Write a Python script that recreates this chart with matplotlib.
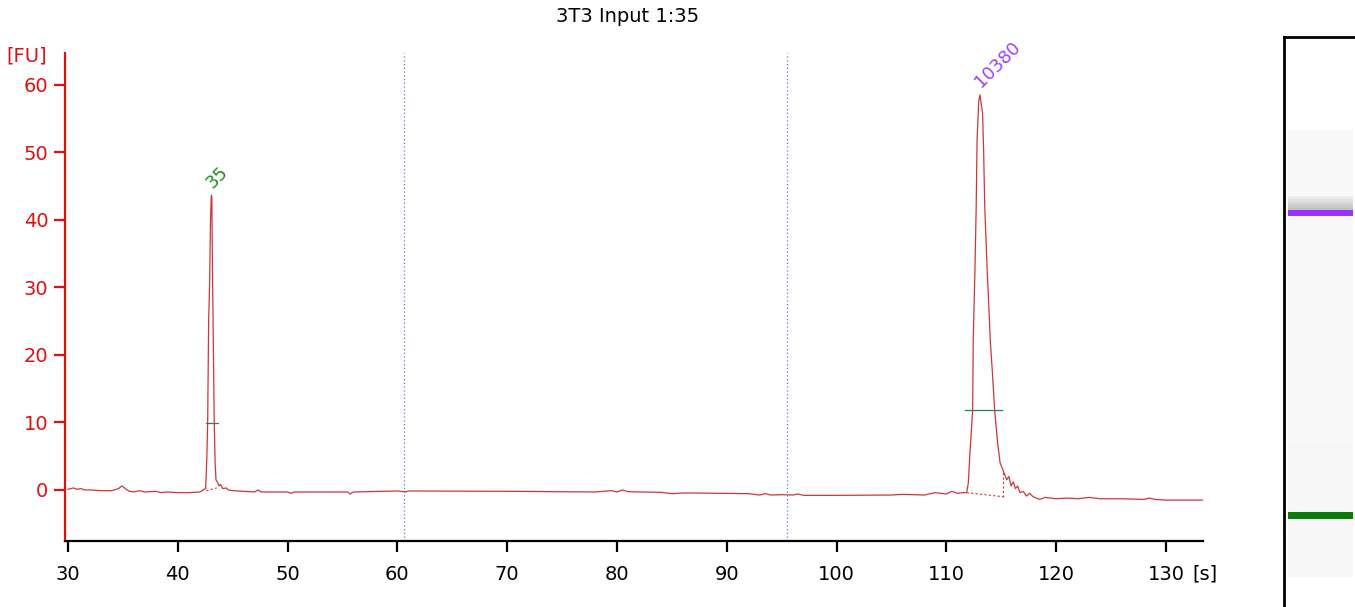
"""Electropherogram of 3T3 Input 1:35 with its gel lane on the right"""

import matplotlib.pyplot as plt

# trace: time [s] and fluorescence [FU]
time_s = [30, 30.5, 30.8, 31.2, 31.5, 32, 33, 34, 34.6, 34.9, 35.3, 35.6, 36, 36.5, 37,
          38, 38.5, 39, 40, 41, 42, 42.3, 42.54,
          42.65, 42.72, 42.81, 42.9, 42.98, 43.05, 43.1, 43.17, 43.25, 43.32, 43.4, 43.48,
          43.6, 43.75, 43.9, 44.1, 44.4, 44.6, 45, 46, 47, 47.3, 47.6, 48,
          50, 50.3, 50.6, 52, 55.5, 55.7, 56, 60, 60.8, 61, 70, 74, 78, 79.5, 80, 80.5, 81,
          82, 84, 85, 86, 87, 92, 93, 93.5, 94, 95, 96, 96.5, 97, 100, 105, 106, 108, 109,
          110, 110.5, 111, 111.5, 111.85,
          112.0, 112.15, 112.4, 112.45, 112.6, 112.72, 112.8, 112.95, 113.06, 113.3, 113.4,
          113.5, 113.73, 113.85, 114.0, 114.2, 114.4, 114.67, 114.9, 115.15, 115.5, 115.7,
          115.9, 116.1, 116.3, 116.5, 116.7, 117, 117.3, 117.6, 117.9, 118.5, 119, 120, 121,
          122, 123, 124, 126, 128, 128.5, 129, 130, 133.4]
fluor = [0.1, 0.3, 0.1, 0.2, 0.0, 0.0, -0.1, -0.1, 0.2, 0.6, 0.1, -0.2, -0.3, -0.1, -0.3,
         -0.2, -0.4, -0.3, -0.4, -0.4, -0.3, 0.0, 0.2,
         5, 9.9, 25, 30.7, 40, 43.6, 43.5, 30.7, 20, 9.9, 4, 1.5,
         1.2, 0.6, 0.8, 0.2, 0.3, 0.0, -0.1, -0.2, -0.3, 0.0, -0.3, -0.3,
         -0.3, -0.5, -0.3, -0.3, -0.3, -0.6, -0.3, -0.15, -0.3, -0.15, -0.2, -0.25, -0.3,
         -0.1, -0.3, 0.0, -0.25, -0.3, -0.35, -0.55, -0.45, -0.45, -0.55, -0.75, -0.55,
         -0.75, -0.7, -0.75, -0.6, -0.8, -0.8, -0.75, -0.65, -0.75, -0.4, -0.6, -0.2, -0.5,
         -0.4, -0.4,
         1.0, 5.5, 11.85, 22.2, 32.1, 41.9, 51.8, 57.5, 58.5, 55.8, 50.0,
         41.9, 32.1, 28.0, 22.2, 17.3, 11.85, 7.0, 4.0, 3.0, 1.5, 2.0,
         0.6, 1.2, 0.2, 0.6, -0.4, -0.2, -0.9, -0.5, -1.0, -1.4, -1.1, -1.3, -1.2,
         -1.3, -1.1, -1.3, -1.3, -1.4, -1.2, -1.4, -1.5, -1.5]

# the two marker peaks
peak_time = [43.07, 113.06]
peak_height = [43.6, 58.5]
peak_label = ["35", "10380"]
peak_color = ["#1f8a1f", "#a040ff"]
band_color = ["#0a7a0a", "#9b30ff"]
# peak width bars (height, start, end) and integration baselines
width_bar_y = [9.9, 11.85]
width_bar_x = [(42.6, 43.7), (111.7, 115.05)]
base_x = [(42.6, 43.55), (111.85, 115.15)]
base_y = [(-0.1, 0.3), (-0.4, -1.0)]
tail_top = 3.0

# region boundaries (dotted lines)
region_lines = [60.6, 95.5]

x_ticks = [30, 40, 50, 60, 70, 80, 90, 100, 110, 120, 130]
y_ticks = [0, 10, 20, 30, 40, 50, 60]

fig = plt.figure(figsize=(13.55, 6.07), dpi=100)
ax = fig.add_axes([0.048, 0.1087, 0.840, 0.804])

ax.plot(time_s, fluor, color="#cc3838", lw=0.9)

for xv in region_lines:
    ax.axvline(xv, color="#7070c8", lw=0.9, ls=(0, (1, 2)))

for i in range(2):
    ax.plot(width_bar_x[i], [width_bar_y[i]] * 2, color="#2e7d5b", lw=0.9)
    ax.plot(base_x[i], base_y[i], color="#cc3838", lw=0.8, ls=(0, (2, 2)))
    ax.text(peak_time[i] + 0.4, peak_height[i] + 0.6, peak_label[i], color=peak_color[i],
            fontsize=13, rotation=45, rotation_mode="anchor", ha="left", va="bottom")
# vertical dotted end of the upper marker baseline
ax.plot([base_x[1][1]] * 2, [base_y[1][1], tail_top], color="#cc3838", lw=0.8,
        ls=(0, (2, 2)))

ax.set_xlim(29.73, 133.4)
ax.set_ylim(-7.56, 64.7)
ax.set_xticks(x_ticks)
ax.set_yticks(y_ticks)
ax.set_xticklabels([str(t) for t in x_ticks], fontsize=14)
ax.set_yticklabels([str(t) for t in y_ticks], fontsize=14, color="#e01010")

for side in ["top", "right"]:
    ax.spines[side].set_visible(False)
ax.spines["left"].set_color("#e01010")
ax.spines["left"].set_linewidth(1.6)
ax.spines["bottom"].set_linewidth(1.6)
ax.tick_params(axis="y", colors="#e01010", length=8, width=1.6, pad=4)
ax.tick_params(axis="x", length=8, width=1.6, pad=9)

ax.text(132.4, -0.0676, "[s]", fontsize=14, ha="left", va="center",
        transform=ax.get_xaxis_transform())
fig.text(0.02, 0.907, "[FU]", color="#e01010", fontsize=14, ha="center", va="center")
fig.text(0.4635, 0.972, "3T3 Input 1:35", fontsize=14, ha="center", va="center")

# gel lane, y axis in the same seconds as the trace
lane = fig.add_axes([1284 / 1355, 0.0, 86 / 1355, 0.939])
lane.set_xlim(0, 1)
lane.set_ylim(21.96, 153.75)
lane.set_xticks([])
lane.set_yticks([])
lane.spines["right"].set_visible(False)
lane.spines["bottom"].set_visible(False)
lane.spines["left"].set_linewidth(2)
lane.spines["top"].set_linewidth(2)
lx0, lx1 = 0.047, 0.80
lane.axhspan(28.9, 132.25, xmin=lx0, xmax=lx1, color="#f8f8f8", lw=0)
lane.axhspan(28.9, 60.0, xmin=lx0, xmax=lx1, color="#f6f6f6", lw=0)
# shadow above the upper band
for k in range(8):
    lane.axhspan(peak_time[1] + 0.8 + k * 0.4, peak_time[1] + 1.2 + k * 0.4,
                 xmin=lx0, xmax=lx1, color="#808080", alpha=0.45 * (1 - k / 8), lw=0)
for i in range(2):
    lane.axhspan(peak_time[i] - 0.75, peak_time[i] + 0.75, xmin=lx0, xmax=lx1,
                 color=band_color[i], lw=0)

fig.savefig("out.png", dpi=100)
